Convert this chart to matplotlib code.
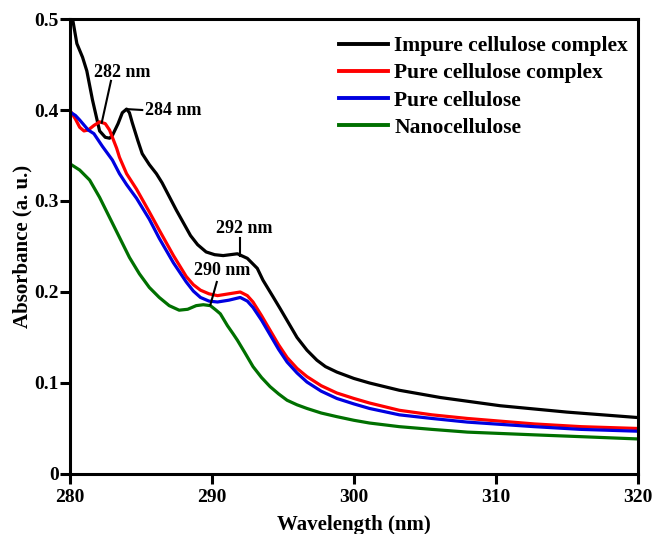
# UV-Vis absorbance spectra of cellulose samples

import matplotlib
matplotlib.use("Agg")
import matplotlib.pyplot as plt

# DATA

wl_impure = [280.0, 280.2, 280.5, 280.9, 281.2, 281.6, 282.1, 282.5, 282.8, 283.0, 283.4,
             283.7, 284.0, 284.2, 284.4, 284.8, 285.1, 285.6, 286.1, 286.5, 287.0, 287.5,
             288.0, 288.5, 289.0, 289.6, 290.2, 290.8, 291.3, 291.8, 292.5, 293.2, 293.6,
             294.3, 294.8, 295.4, 296.0, 296.7, 297.4, 298.0, 298.8, 300.0, 301.1, 303.2,
             306.1, 310.3, 315.0, 320.0]
abs_impure = [0.53, 0.50, 0.473, 0.458, 0.443, 0.411, 0.377, 0.370, 0.369, 0.372, 0.385,
              0.397, 0.401, 0.397, 0.386, 0.366, 0.352, 0.340, 0.330, 0.320, 0.305, 0.290,
              0.276, 0.262, 0.252, 0.244, 0.241, 0.240, 0.241, 0.242, 0.237, 0.226, 0.213,
              0.195, 0.182, 0.166, 0.150, 0.136, 0.125, 0.118, 0.112, 0.105, 0.100, 0.092,
              0.084, 0.075, 0.068, 0.062]

wl_pure_complex = [280.0, 280.4, 280.7, 281.0, 281.3, 281.7, 282.1, 282.5, 282.8, 283.3,
                   283.5, 284.0, 284.7, 285.6, 286.3, 287.3, 288.2, 288.7, 289.2, 289.8,
                   290.4, 291.2, 292.0, 292.5, 292.9, 293.5, 294.1, 294.7, 295.3, 296.0,
                   296.7, 297.7, 298.8, 300.0, 301.1, 303.2, 305.5, 308.0, 312.7, 316.0, 320.0]
abs_pure_complex = [0.400, 0.390, 0.381, 0.377, 0.378, 0.383, 0.387, 0.385, 0.378, 0.358,
                    0.348, 0.330, 0.313, 0.288, 0.268, 0.240, 0.217, 0.208, 0.202, 0.198,
                    0.196, 0.198, 0.200, 0.196, 0.189, 0.174, 0.158, 0.142, 0.128, 0.116,
                    0.107, 0.097, 0.089, 0.083, 0.078, 0.070, 0.065, 0.061, 0.055, 0.052, 0.050]

wl_pure = [280.0, 280.4, 280.7, 281.3, 281.7, 282.3, 283.0, 283.5, 284.0, 284.7, 285.6,
           286.3, 287.3, 288.2, 288.7, 289.2, 289.8, 290.4, 291.2, 292.0, 292.5, 292.9,
           293.5, 294.1, 294.7, 295.3, 296.0, 296.7, 297.7, 298.8, 300.0, 301.1, 303.2,
           305.5, 308.0, 312.7, 316.0, 320.0]
abs_pure = [0.398, 0.394, 0.389, 0.378, 0.374, 0.360, 0.345, 0.330, 0.318, 0.303, 0.280,
            0.259, 0.232, 0.211, 0.201, 0.194, 0.190, 0.189, 0.191, 0.194, 0.190, 0.183,
            0.169, 0.153, 0.137, 0.123, 0.111, 0.101, 0.091, 0.083, 0.077, 0.072, 0.065,
            0.061, 0.057, 0.052, 0.049, 0.047]

wl_nano = [280.0, 280.7, 281.4, 282.1, 282.8, 283.5, 284.2, 284.9, 285.6, 286.3, 287.0,
           287.7, 288.3, 288.9, 289.4, 289.9, 290.3, 290.6, 291.1, 291.5, 291.8, 292.3,
           292.9, 293.5, 294.1, 294.7, 295.3, 296.0, 296.7, 297.7, 298.8, 300.0, 301.1,
           303.2, 305.5, 308.0, 312.7, 316.0, 320.0]
abs_nano = [0.341, 0.334, 0.323, 0.304, 0.282, 0.260, 0.238, 0.220, 0.205, 0.194, 0.185,
            0.180, 0.181, 0.185, 0.186, 0.185, 0.180, 0.176, 0.163, 0.154, 0.147, 0.134,
            0.118, 0.106, 0.096, 0.088, 0.081, 0.076, 0.072, 0.067, 0.063, 0.059, 0.056,
            0.052, 0.049, 0.046, 0.043, 0.041, 0.0385]

labels = ["Impure cellulose complex", "Pure cellulose complex", "Pure cellulose", "Nanocellulose"]
colors = ["black", "#ff0000", "#0000e0", "#007000"]

# peak labels: text, text position, alignment, line start, line end
peaks = [("282 nm", (283.7, 0.441), "center", (282.9, 0.432), (282.25, 0.386)),
         ("284 nm", (285.3, 0.400), "left", (285.1, 0.400), (284.0, 0.401)),
         ("292 nm", (292.3, 0.270), "center", (292.0, 0.259), (292.0, 0.240)),
         ("290 nm", (290.7, 0.224), "center", (290.35, 0.211), (289.9, 0.186))]

# PLOT

plt.rcParams['font.family'] = ['Liberation Serif', 'DejaVu Serif']
plt.rcParams['font.weight'] = 'bold'

fig = plt.figure(figsize=(6.52, 5.34), dpi=100)
ax = fig.add_axes([0.107, 0.1124, 0.8715, 0.852])

series = [(wl_impure, abs_impure), (wl_pure_complex, abs_pure_complex),
          (wl_pure, abs_pure), (wl_nano, abs_nano)]
for (x, y), lab, c in zip(series, labels, colors):
    ax.plot(x, y, color=c, lw=2.3, label=lab, solid_joinstyle="round")

for txt, tpos, ha, p0, p1 in peaks:
    ax.plot([p0[0], p1[0]], [p0[1], p1[1]], color="black", lw=1.5)
    ax.text(tpos[0], tpos[1], txt, ha=ha, va="center", fontsize=13, fontweight="bold")

ax.set_xlim(280, 320)
ax.set_ylim(0, 0.5)
ax.set_xticks([280, 290, 300, 310, 320])
ax.set_yticks([0, 0.1, 0.2, 0.3, 0.4, 0.5])
ax.set_yticklabels(["0", "0.1", "0.2", "0.3", "0.4", "0.5"])
ax.tick_params(direction="out", length=7, width=2.2, labelsize=14)
ax.tick_params(axis="x", pad=4)
ax.tick_params(axis="y", pad=1)
for s in ax.spines.values():
    s.set_linewidth(2.2)

ax.set_xlabel("Wavelength (nm)", fontsize=15, fontweight="bold", labelpad=6)
ax.set_ylabel("Absorbance (a. u.)", fontsize=15, fontweight="bold", labelpad=1)

leg = ax.legend(loc="upper right", bbox_to_anchor=(1.013, 1.0), frameon=False,
                fontsize=15.5, handlelength=2.3, handletextpad=0.28,
                labelspacing=0.33, borderaxespad=0.4)
for h in leg.get_lines():
    h.set_linewidth(2.8)

fig.savefig("out.png", dpi=100)
